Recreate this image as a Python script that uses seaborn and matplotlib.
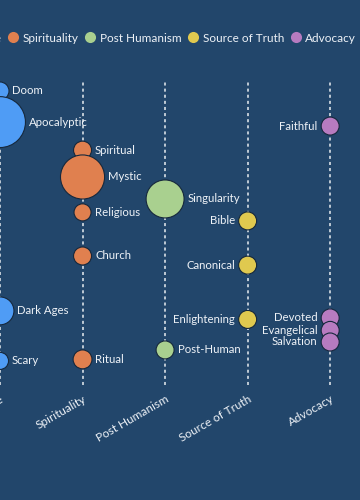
import matplotlib
matplotlib.use('Agg')
import numpy as np
import pandas as pd
import matplotlib.pyplot as plt
import seaborn as sns
from matplotlib.lines import Line2D

# categories / colours
categories = ['Negative', 'Spirituality', 'Post Humanism', 'Source of Truth', 'Advocacy']
colors = ['#4f9cf5', '#e0804f', '#a9d08f', '#e0c94f', '#b77bc0']

# words, their group, position score (0-100) and weight (bubble area)
words = ['Doom', 'Apocalyptic', 'Dark Ages', 'Scary',
         'Spiritual', 'Mystic', 'Religious', 'Church', 'Ritual',
         'Singularity', 'Post-Human',
         'Bible', 'Canonical', 'Enlightening',
         'Faithful', 'Devoted', 'Evangelical', 'Salvation']
groups = (['Negative'] * 4 + ['Spirituality'] * 5 + ['Post Humanism'] * 2
          + ['Source of Truth'] * 3 + ['Advocacy'] * 4)
scores = [96.4, 86.2, 24.3, 7.9,
          77.0, 68.2, 56.6, 42.3, 8.4,
          61.0, 11.5,
          53.8, 39.3, 21.5,
          84.9, 22.0, 17.9, 14.1]
weights = [1.0, 8.0, 2.4, 0.9,
           1.0, 6.0, 0.9, 1.0, 1.1,
           4.45, 1.0,
           1.0, 1.0, 1.0,
           1.0, 1.0, 1.0, 1.0]

bg = '#22466b'
txt = '#eef2f7'
plt.rcParams['font.family'] = ['Lato', 'DejaVu Sans']

df = pd.DataFrame({'word': words, 'group': groups, 'score': scores, 'weight': weights})

fig = plt.figure(figsize=(3.6, 5.0), dpi=100)
fig.patch.set_facecolor(bg)
ax = fig.add_axes([0, 0.23, 1, 0.61])
ax.set_facecolor(bg)

for i in range(len(categories)):
    ax.axvline(i, color='white', ls=(0, (2, 2)), lw=1.1, alpha=0.9, zorder=0)

k = 168  # marker area per unit weight
sns.scatterplot(data=df, x='group', y='score', hue='group', palette=colors,
                hue_order=categories, size='weight',
                sizes=(min(weights) * k, max(weights) * k),
                size_norm=(min(weights), max(weights)),
                edgecolor='#16283c', linewidth=0.8, legend=False,
                ax=ax, zorder=3, clip_on=False)

# word labels: first three groups to the right, others to the left
for w, g, sc, wt in zip(words, groups, scores, weights):
    ci = categories.index(g)
    off = np.sqrt(wt * k) / 2 + 2.5
    side = 1 if ci < 3 else -1
    ax.annotate(w, (ci, sc), xytext=(side * off, 0), textcoords='offset points',
                ha='left' if side > 0 else 'right', va='center',
                color=txt, fontsize=8.2, annotation_clip=False, zorder=4)

ax.set_xlim(2 / 83, 2 / 83 + 360 / 83)
ax.set_ylim(0, 100)
ax.set_xticks(range(len(categories)))
ax.set_xticklabels(categories, rotation=30, ha='right', rotation_mode='anchor',
                   color=txt, fontsize=8.5)
ax.tick_params(axis='x', length=0, pad=6)
ax.set_yticks([])
ax.set_xlabel('')
ax.set_ylabel('')
for s in ax.spines.values():
    s.set_visible(False)

handles = [Line2D([], [], marker='o', ls='', color=c, markersize=8, markeredgewidth=0)
           for c in colors]
fig.legend(handles, categories, loc='center right', bbox_to_anchor=(356 / 360, 1 - 38 / 500),
           ncol=5, frameon=False, fontsize=8.5, handlelength=1, handletextpad=0.32,
           columnspacing=0.47, borderaxespad=0, borderpad=0, labelcolor=txt)

fig.savefig('out.png', dpi=100, facecolor=bg)
